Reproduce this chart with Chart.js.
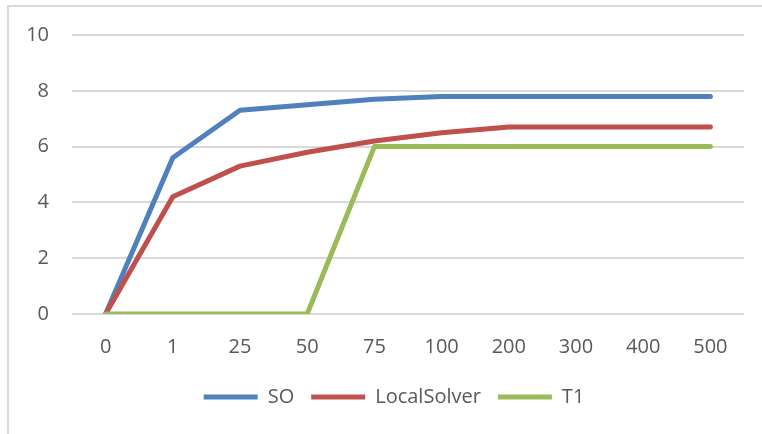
<!DOCTYPE html>
<html>
<head>
<meta charset="utf-8">
<script src="https://cdn.jsdelivr.net/npm/chart.js@4.4.1/dist/chart.umd.min.js"></script>
<style>
    html, body { margin: 0; padding: 0; background: #fff; overflow: hidden; }
    #wrap { position: relative; width: 762px; height: 434px; }
    #frame {
        position: absolute; left: 7px; top: 5px; width: 800px; height: 500px;
        border: 2px solid #d9d9d9; box-sizing: border-box;
    }
    canvas { position: absolute; left: 0; top: 0; }
</style>
</head>
<body>
<div id="wrap">
    <div id="frame"></div>
    <canvas id="lineChart" width="762" height="434"></canvas>
</div>
<script>
// Chart data
const categories = ['0', '1', '25', '50', '75', '100', '200', '300', '400', '500'];
const soValues = [0, 5.6, 7.3, 7.5, 7.7, 7.8, 7.8, 7.8, 7.8, 7.8];
const localSolverValues = [0, 4.2, 5.3, 5.8, 6.2, 6.5, 6.7, 6.7, 6.7, 6.7];
const t1Values = [0, 0, 0, 0, 6, 6, 6, 6, 6, 6];
const yTicks = [0, 2, 4, 6, 8, 10];

const textColor = '#595959';
const font = { family: "'Open Sans', 'Liberation Sans', sans-serif", size: 20 };

function lineSet(label, data, color, order) {
    return {
        label: label,
        data: data,
        borderColor: color,
        backgroundColor: color,
        borderWidth: 5,
        borderCapStyle: 'round',
        borderJoinStyle: 'round',
        pointRadius: 0,
        pointHoverRadius: 0,
        tension: 0,
        order: order
    };
}

// shift the legend a bit to the right, like the original
const legendShift = {
    id: 'legendShift',
    afterLayout(chart) {
        chart.legend.left += 22;
        chart.legend.right += 22;
    }
};

const ctx = document.getElementById('lineChart').getContext('2d');
const chart = new Chart(ctx, {
    type: 'line',
    data: {
        labels: categories,
        datasets: [
            lineSet('SO', soValues, '#4f81bd', 3),
            lineSet('LocalSolver', localSolverValues, '#c0504d', 2),
            lineSet('T1', t1Values, '#9bbb59', 1)
        ]
    },
    plugins: [legendShift],
    options: {
        responsive: false,
        animation: false,
        layout: {
            padding: { left: 0, right: 18, top: 34, bottom: 17 }
        },
        plugins: {
            tooltip: { enabled: false },
            legend: {
                position: 'bottom',
                labels: {
                    usePointStyle: true,
                    pointStyle: 'line',
                    pointStyleWidth: 54,
                    padding: 17,
                    color: textColor,
                    font: font,
                    sort: (a, b) => a.datasetIndex - b.datasetIndex
                }
            }
        },
        scales: {
            x: {
                offset: true,
                grid: { display: false },
                border: { display: false },
                ticks: { color: textColor, font: font, padding: 13, maxRotation: 0 },
                afterFit: function(scale) { scale.height = 56; }
            },
            y: {
                min: 0,
                max: 10,
                afterBuildTicks: function(scale) {
                    scale.ticks = yTicks.map(v => ({ value: v }));
                },
                grid: { color: '#d9d9d9', lineWidth: 2, drawTicks: false },
                border: { display: false },
                ticks: { color: textColor, font: font, padding: 23 },
                afterFit: function(scale) { scale.width = 72; }
            }
        }
    }
});
</script>
</body>
</html>
